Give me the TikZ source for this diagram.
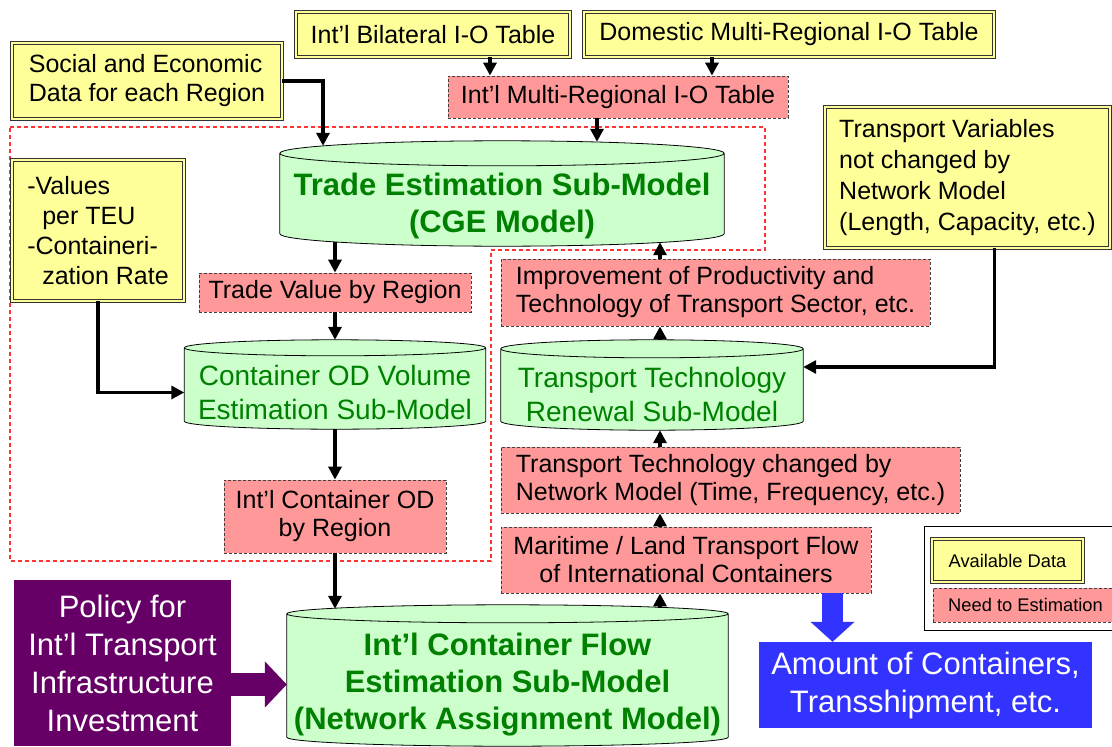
\documentclass[tikz,border=0pt]{standalone}
\usepackage{fontspec}
\setmainfont{Liberation Sans}
\usetikzlibrary{arrows.meta,calc,backgrounds}

\definecolor{datafill}{HTML}{FFFF99}
\definecolor{estfill}{HTML}{FF9999}
\definecolor{modelfill}{HTML}{CCFFCC}
\definecolor{modeltext}{HTML}{008000}
\definecolor{policyfill}{HTML}{660066}
\definecolor{outputfill}{HTML}{3333FF}
\definecolor{scopeline}{HTML}{FF3333}

% drum outline behind a sub-model node, #2 = radius of the end ellipses
\newcommand{\drum}[2]{%
  \begin{scope}[on background layer]
    \filldraw[fill=modelfill, draw=black, line width=.8pt]
      let \p1=(#1.north west), \p2=(#1.south east), \n1={(\x2-\x1)/2} in
      (\x1,\y1+#2) -- (\x1,\y2+#2)
      arc[start angle=180, end angle=360, x radius=\n1, y radius=#2]
      -- (\x2,\y1+#2)
      arc[start angle=0, end angle=180, x radius=\n1, y radius=#2] -- cycle
      (\x1,\y1+#2) arc[start angle=180, end angle=360, x radius=\n1, y radius=#2];
  \end{scope}}

\begin{document}
\begin{tikzpicture}[x=1pt, y=-1pt, every node/.style={inner sep=0pt},
    datum/.style={draw=black!80, line width=.9pt, double=datafill, double distance=1.4pt,
      fill=datafill, align=left, font=\fontsize{25}{29}\selectfont},
    estim/.style={draw=black!75, line width=.8pt, dash pattern=on 3pt off 2pt,
      fill=estfill, font=\fontsize{25}{28}\selectfont},
    submodel/.style={text=modeltext, align=center, font=\fontsize{28}{34}\selectfont},
    keymodel/.style={text=modeltext, align=center, font=\fontsize{31}{37}\selectfont\bfseries},
    solidbox/.style={text=white, align=center, font=\fontsize{31}{38}\selectfont},
    feed/.style={line width=3.2pt, -{Triangle[length=13pt,width=13pt]}},
    scopeframe/.style={draw=scopeline, line width=1.1pt, dash pattern=on 4pt off 3pt}]
  \useasboundingbox (0,0) rectangle (1112,747);

  \draw[scopeframe] (10,127) -- (765,127) -- (765,250) -- (491,250) -- (491,561) -- (10,561) -- cycle;

  % input data
  \node[datum, minimum width=270pt, minimum height=76pt] (social) at (147,81) {Social and Economic\\Data for each Region};
  \node[datum, minimum width=274pt, minimum height=45pt] (bilat) at (433,34.5) {Int'l Bilateral I-O Table};
  \node[datum, minimum width=410pt, minimum height=45pt] (domestic) at (789,34.5) {Domestic Multi-Regional I-O Table};
  \node[datum, minimum width=172pt, minimum height=141pt, font=\fontsize{25}{30}\selectfont] (values) at (98,230.5)
    {-Values\\\hspace*{15pt}per TEU\\-Containeri-\\\hspace*{15pt}zation Rate};
  \node[datum, minimum width=285pt, minimum height=141pt, font=\fontsize{25}{31}\selectfont] (transvar) at (967.5,177.5)
    {Transport Variables\\not changed by\\Network Model\\(Length, Capacity, etc.)};

  % left column
  \node[estim, minimum width=340pt, minimum height=42pt] (multireg) at (618,97) {Int'l Multi-Regional I-O Table};
  \node[keymodel, minimum width=444pt, minimum height=80pt] (trade) at (502,206) {Trade Estimation Sub-Model\\(CGE Model)};
  \node[estim, minimum width=272pt, minimum height=39pt] (tradeval) at (335,292.5) {Trade Value by Region};
  \node[submodel, minimum width=301pt, minimum height=73pt] (contod) at (335,392.5) {Container OD Volume\\Estimation Sub-Model};
  \node[estim, align=center, minimum width=222pt, minimum height=73pt] (intlod) at (335,516.5) {Int'l Container OD\\by Region};
  \node[keymodel, minimum width=441pt, minimum height=123pt] (netmodel) at (507.5,684.5)
    {Int'l Container Flow\\Estimation Sub-Model\\(Network Assignment Model)};

  % right column
  \node[estim, align=left, minimum width=429pt, minimum height=67pt] (improvement) at (715.5,292.5)
    {Improvement of Productivity and\\Technology of Transport Sector, etc.};
  \node[submodel, minimum width=302pt, minimum height=72pt] (renewal) at (652,394) {Transport Technology\\Renewal Sub-Model};
  \node[estim, align=left, minimum width=459pt, minimum height=66pt] (techchg) at (730.5,480)
    {Transport Technology changed by\\Network Model (Time, Frequency, etc.)};
  \node[estim, align=center, minimum width=370pt, minimum height=66pt] (maritime) at (686,560)
    {Maritime / Land Transport Flow\\of International Containers};
  \coordinate (spine) at (660,0);

  \node[solidbox, fill=policyfill, minimum width=217pt, minimum height=166pt] (policy) at (122.5,663)
    {Policy for\\Int'l Transport\\Infrastructure\\Investment};
  \node[solidbox, fill=outputfill, minimum width=333pt, minimum height=86pt] (amount) at (925.5,685)
    {Amount of Containers,\\Transshipment, etc.};

  % legend
  \draw[line width=.8pt] (924,526) rectangle (1130,630);
  \node[datum, font=\fontsize{18.3}{22}\selectfont, minimum width=151pt, minimum height=43pt] (avail) at (1007.5,560.5) {Available Data};
  \node[estim, font=\fontsize{18.3}{22}\selectfont, minimum width=185pt, minimum height=34pt] (need) at (1025.5,605) {Need to Estimation};

  \drum{trade}{12.5pt}
  \drum{contod}{8pt}
  \drum{renewal}{9pt}
  \drum{netmodel}{9pt}

  \draw[feed] (social.east) -| ($(trade.north)+(-179,-20)$);
  \draw[feed] ($(bilat.south)+(57,0)$) -- ($(multireg.north -| bilat.south)+(57,0)$);
  \draw[feed] ($(domestic.south)+(-77,0)$) -- ($(multireg.north -| domestic.south)+(-77,0)$);
  \draw[feed] ($(multireg.south)+(-21,0)$) -- ($(trade.north -| multireg.south)+(-21,-24)$);
  \draw[feed] ($(trade.south -| tradeval.north)+(0,-4)$) -- (tradeval.north);
  \draw[feed] (tradeval.south) -- ($(contod.north)+(0,-16)$);
  \draw[feed] (values.south) |- (contod.west);
  \draw[feed] (contod.south) -- (intlod.north);
  \draw[feed] (intlod.south) -- ($(netmodel.north -| intlod.south)+(0,-14)$);

  \draw[feed] ($(netmodel.north -| spine)+(0,-15)$) -- (maritime.south -| spine);
  \draw[feed] (maritime.north -| spine) -- (techchg.south -| spine);
  \draw[feed] (techchg.north -| spine) -- (renewal.south -| spine);
  \draw[feed] ($(renewal.north -| spine)+(0,-18)$) -- (improvement.south -| spine);
  \draw[feed] (improvement.north -| spine) -- ($(trade.south -| spine)+(0,-4)$);
  \draw[feed] ($(transvar.south)+(27,0)$) |- ($(renewal.east)+(0,-27)$);

  \draw[policyfill, line width=23pt, -{Triangle[length=22pt,width=45pt]}] (policy.east |- netmodel.west) -- (netmodel.west);
  \draw[outputfill, line width=21pt, -{Triangle[length=20pt,width=43pt]}] ($(maritime.south)+(146.5,0)$) -- ($(amount.north -| maritime.south)+(146.5,0)$);
\end{tikzpicture}
\end{document}
